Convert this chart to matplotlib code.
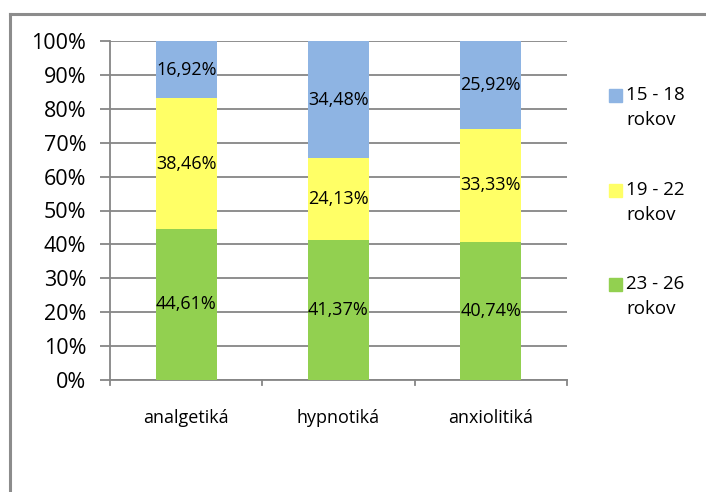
import matplotlib
matplotlib.use("Agg")
import matplotlib.pyplot as plt
from matplotlib.patches import Rectangle
from matplotlib.lines import Line2D
import numpy as np

plt.rcParams['font.family'] = ['Open Sans', 'DejaVu Sans']

categories = ["analgetiká", "hypnotiká", "anxiolitiká"]
series_names = ["23 - 26\nrokov", "19 - 22\nrokov", "15 - 18\nrokov"]
values_23_26 = [44.61, 41.37, 40.74]
values_19_22 = [38.46, 24.13, 33.33]
values_15_18 = [16.92, 34.48, 25.92]
series_values = [values_23_26, values_19_22, values_15_18]
series_colors = ["#92D050", "#FFFF66", "#8EB4E3"]
y_ticks = [0, 10, 20, 30, 40, 50, 60, 70, 80, 90, 100]

W, H = 706, 492
fig = plt.figure(figsize=(W / 100, H / 100), dpi=100)
fig.patch.set_facecolor("white")

# outer frame (top and left edges)
fig.add_artist(Line2D([10 / W, 1], [1 - 14 / H, 1 - 14 / H], color="#8c8c8c", lw=2.2,
                      transform=fig.transFigure))
fig.add_artist(Line2D([10 / W, 10 / W], [0, 1 - 14 / H], color="#8c8c8c", lw=2.2,
                      transform=fig.transFigure))

ax_left, ax_right, ax_top, ax_bottom = 110, 567, 41, 380
ax = fig.add_axes([ax_left / W, 1 - ax_bottom / H, (ax_right - ax_left) / W, (ax_bottom - ax_top) / H])

x = np.arange(len(categories))
bottom = np.zeros(len(categories))
for vals, color in zip(series_values, series_colors):
    vals = np.array(vals)
    ax.bar(x, vals, bottom=bottom, width=0.4, color=color, zorder=3)
    for xi, b, v in zip(x, bottom, vals):
        ax.text(xi, b + v / 2, f"{v:.2f}%".replace(".", ","), ha="center", va="center",
                fontsize=13, color="#000000", zorder=4)
    bottom += vals

ax.set_xlim(-0.5, len(categories) - 0.5)
ax.set_ylim(0, 100)
ax.set_yticks(y_ticks)
ax.set_yticklabels([f"{t}%" for t in y_ticks], fontsize=15.5)
ax.yaxis.grid(True, color="#868686", lw=1.3, zorder=0)
ax.set_xticks(x)
ax.set_xticklabels(categories, fontsize=13)
ax.tick_params(axis="x", length=0, pad=21)
ax.tick_params(axis="y", length=7, width=1.3, color="#868686", pad=10)

# category separators on the x axis
for xb in np.arange(-0.5, len(categories), 1.0):
    ax.plot([xb, xb], [0, -1.5], color="#868686", lw=1.3, clip_on=False, zorder=5)

for side in ["top", "right"]:
    ax.spines[side].set_visible(False)
for side in ["left", "bottom"]:
    ax.spines[side].set_color("#868686")
    ax.spines[side].set_linewidth(1.3)

# legend, listed from top series to bottom series
legend_tops = [89, 184, 278]
for top, name, color in zip(legend_tops, series_names[::-1], series_colors[::-1]):
    fig.add_artist(Rectangle((609 / W, 1 - (top + 13) / H), 13 / W, 13 / H, color=color,
                             transform=fig.transFigure))
    fig.text(626 / W, 1 - (top - 3) / H, name, ha="left", va="top", fontsize=13.5,
             linespacing=1.5)

fig.savefig("out.png", dpi=100)
